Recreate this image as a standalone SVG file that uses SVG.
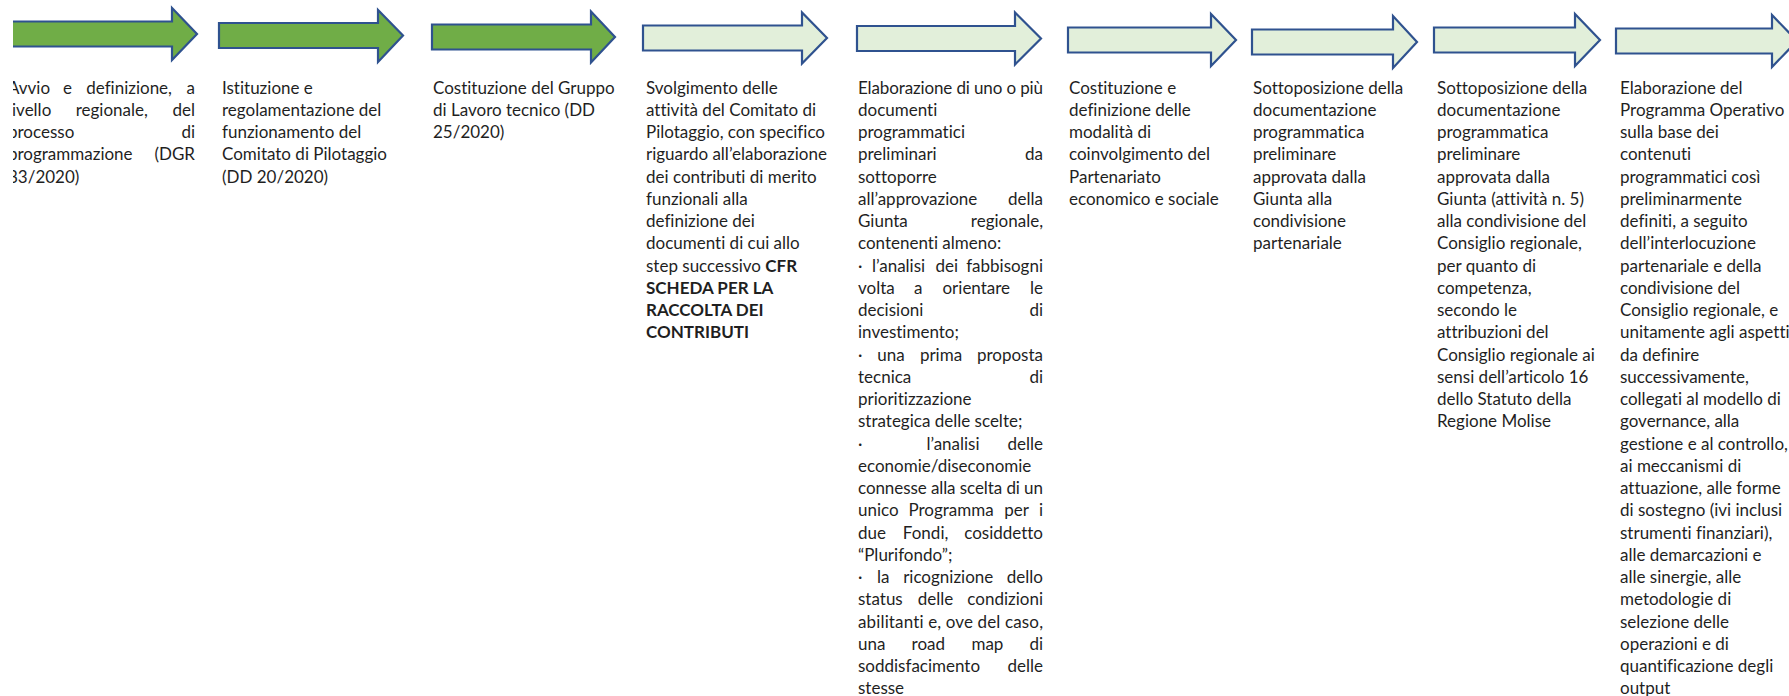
<svg xmlns="http://www.w3.org/2000/svg" width="1789" height="696" viewBox="0 0 1789 696">
<defs>
<style>
.ad{fill:#70AD47;stroke:#2F528F;stroke-width:2.2;stroke-linejoin:miter}
.al{fill:#E2EFDA;stroke:#2F528F;stroke-width:2.2;stroke-linejoin:miter}
.t{font-family:Lato,"Open Sans",sans-serif;font-size:17px;fill:#1f1f1f;font-variant-ligatures:none}
.b{font-weight:bold}
.e{text-anchor:end}
.m{text-anchor:middle}
</style>
<clipPath id="leftclip"><rect x="13" y="0" width="1776" height="696"/></clipPath>
</defs>
<rect width="1789" height="696" fill="#ffffff"/>
<g id="connectors"></g>
<g id="step1" clip-path="url(#leftclip)">
<polygon class="ad" points="4,21.5 172,21.5 172,8 197,34 172,60 172,46.5 4,46.5"/>
<text class="t"><tspan x="8" y="93.5">Avvio</tspan><tspan class="m" x="67.4" y="93.5">e</tspan><tspan class="m" x="129.1" y="93.5">definizione,</tspan><tspan class="e" x="195" y="93.5">a</tspan></text>
<text class="t"><tspan x="8" y="115.75">livello</tspan><tspan class="m" x="111.8" y="115.75">regionale,</tspan><tspan class="e" x="195" y="115.75">del</tspan></text>
<text class="t"><tspan x="8" y="138">processo</tspan><tspan class="e" x="195" y="138">di</tspan></text>
<text class="t"><tspan x="8" y="160.25">programmazione</tspan><tspan class="e" x="195" y="160.25">(DGR</tspan></text>
<text class="t" x="8" y="182.5">83/2020)</text>
</g>
<g id="step2">
<polygon class="ad" points="219,23 378,23 378,10 403,35.5 378,62 378,48 219,48"/>
<text class="t"><tspan x="222" y="93.5">Istituzione e</tspan><tspan x="222" y="115.75">regolamentazione del</tspan><tspan x="222" y="138">funzionamento del</tspan><tspan x="222" y="160.25">Comitato di Pilotaggio</tspan><tspan x="222" y="182.5">(DD 20/2020)</tspan></text>
</g>
<g id="step3">
<polygon class="ad" points="432,24.5 591,24.5 591,11.5 615,37 591,62.5 591,49.5 432,49.5"/>
<text class="t"><tspan x="433" y="93.5">Costituzione del Gruppo</tspan><tspan x="433" y="115.75">di Lavoro tecnico (DD</tspan><tspan x="433" y="138">25/2020)</tspan></text>
</g>
<g id="step4">
<polygon class="al" points="643,25.5 802,25.5 802,12.5 827,38 802,63.5 802,50.5 643,50.5"/>
<text class="t"><tspan x="646" y="93.5">Svolgimento delle</tspan><tspan x="646" y="115.75">attività del Comitato di</tspan><tspan x="646" y="138">Pilotaggio, con specifico</tspan><tspan x="646" y="160.25">riguardo all’elaborazione</tspan><tspan x="646" y="182.5">dei contributi di merito</tspan><tspan x="646" y="204.75">funzionali alla</tspan><tspan x="646" y="227">definizione dei</tspan><tspan x="646" y="249.25">documenti di cui allo</tspan><tspan x="646" y="271.5">step successivo </tspan><tspan class="b">CFR</tspan><tspan class="b" x="646" y="293.75">SCHEDA PER LA</tspan><tspan class="b" x="646" y="316">RACCOLTA DEI</tspan><tspan class="b" x="646" y="338.25">CONTRIBUTI</tspan></text>
</g>
<g id="step5">
<polygon class="al" points="857,26 1015,26 1015,12.5 1041,38.5 1015,64.5 1015,51 857,51"/>
<text class="t" x="858" y="93.5" textLength="185" lengthAdjust="spacing">Elaborazione di uno o più</text>
<text class="t" x="858" y="115.75">documenti</text>
<text class="t" x="858" y="138">programmatici</text>
<text class="t"><tspan x="858" y="160.25">preliminari</tspan><tspan class="e" x="1043" y="160.25">da</tspan></text>
<text class="t" x="858" y="182.5">sottoporre</text>
<text class="t"><tspan x="858" y="204.75">all’approvazione</tspan><tspan class="e" x="1043" y="204.75">della</tspan></text>
<text class="t"><tspan x="858" y="227">Giunta</tspan><tspan class="e" x="1043" y="227">regionale,</tspan></text>
<text class="t" x="858" y="249.25">contenenti almeno:</text>
<text class="t"><tspan x="858" y="271.5">·</tspan><tspan x="872" y="271.5">l’analisi</tspan><tspan class="m" x="946.8" y="271.5">dei</tspan><tspan class="e" x="1043" y="271.5">fabbisogni</tspan></text>
<text class="t"><tspan x="858" y="293.75">volta</tspan><tspan class="m" x="918.3" y="293.75">a</tspan><tspan class="m" x="976.3" y="293.75">orientare</tspan><tspan class="e" x="1043" y="293.75">le</tspan></text>
<text class="t"><tspan x="858" y="316">decisioni</tspan><tspan class="e" x="1043" y="316">di</tspan></text>
<text class="t" x="858" y="338.25">investimento;</text>
<text class="t"><tspan x="858" y="360.5">·</tspan><tspan class="m" x="891" y="360.5">una</tspan><tspan class="m" x="941" y="360.5">prima</tspan><tspan class="e" x="1043" y="360.5">proposta</tspan></text>
<text class="t"><tspan x="858" y="382.75">tecnica</tspan><tspan class="e" x="1043" y="382.75">di</tspan></text>
<text class="t" x="858" y="405">prioritizzazione</text>
<text class="t" x="858" y="427.25">strategica delle scelte;</text>
<text class="t"><tspan x="858" y="449.5">·</tspan><tspan class="m" x="953" y="449.5">l’analisi</tspan><tspan class="e" x="1043" y="449.5">delle</tspan></text>
<text class="t" x="858" y="471.75">economie/diseconomie</text>
<text class="t" x="858" y="494" textLength="185" lengthAdjust="spacing">connesse alla scelta di un</text>
<text class="t"><tspan x="858" y="516.25">unico</tspan><tspan class="m" x="951.1" y="516.25">Programma</tspan><tspan class="m" x="1016.5" y="516.25">per</tspan><tspan class="e" x="1043" y="516.25">i</tspan></text>
<text class="t"><tspan x="858" y="538.5">due</tspan><tspan class="m" x="925.6" y="538.5">Fondi,</tspan><tspan class="e" x="1043" y="538.5">cosiddetto</tspan></text>
<text class="t" x="858" y="560.75">“Plurifondo”;</text>
<text class="t"><tspan x="858" y="583">·</tspan><tspan class="m" x="883.2" y="583">la</tspan><tspan class="m" x="948.2" y="583">ricognizione</tspan><tspan class="e" x="1043" y="583">dello</tspan></text>
<text class="t"><tspan x="858" y="605.25">status</tspan><tspan class="m" x="935.4" y="605.25">delle</tspan><tspan class="e" x="1043" y="605.25">condizioni</tspan></text>
<text class="t" x="858" y="627.5" textLength="185" lengthAdjust="spacing">abilitanti e, ove del caso,</text>
<text class="t"><tspan x="858" y="649.75">una</tspan><tspan class="m" x="928.3" y="649.75">road</tspan><tspan class="m" x="987.4" y="649.75">map</tspan><tspan class="e" x="1043" y="649.75">di</tspan></text>
<text class="t"><tspan x="858" y="672">soddisfacimento</tspan><tspan class="e" x="1043" y="672">delle</tspan></text>
<text class="t" x="858" y="694.25">stesse</text>
</g>
<g id="step6">
<polygon class="al" points="1068,27.5 1211,27.5 1211,14 1236,40 1211,66 1211,52.5 1068,52.5"/>
<text class="t"><tspan x="1069" y="93.5">Costituzione e</tspan><tspan x="1069" y="115.75">definizione delle</tspan><tspan x="1069" y="138">modalità di</tspan><tspan x="1069" y="160.25">coinvolgimento del</tspan><tspan x="1069" y="182.5">Partenariato</tspan><tspan x="1069" y="204.75">economico e sociale</tspan></text>
</g>
<g id="step7">
<polygon class="al" points="1252,29.5 1393,29.5 1393,16 1417,42 1393,68 1393,54.5 1252,54.5"/>
<text class="t"><tspan x="1253" y="93.5">Sottoposizione della</tspan><tspan x="1253" y="115.75">documentazione</tspan><tspan x="1253" y="138">programmatica</tspan><tspan x="1253" y="160.25">preliminare</tspan><tspan x="1253" y="182.5">approvata dalla</tspan><tspan x="1253" y="204.75">Giunta alla</tspan><tspan x="1253" y="227">condivisione</tspan><tspan x="1253" y="249.25">partenariale</tspan></text>
</g>
<g id="step8">
<polygon class="al" points="1434,27.5 1575,27.5 1575,14 1600,40 1575,66 1575,52.5 1434,52.5"/>
<text class="t"><tspan x="1437" y="93.5">Sottoposizione della</tspan><tspan x="1437" y="115.75">documentazione</tspan><tspan x="1437" y="138">programmatica</tspan><tspan x="1437" y="160.25">preliminare</tspan><tspan x="1437" y="182.5">approvata dalla</tspan><tspan x="1437" y="204.75">Giunta (attività n. 5)</tspan><tspan x="1437" y="227">alla condivisione del</tspan><tspan x="1437" y="249.25">Consiglio regionale,</tspan><tspan x="1437" y="271.5">per quanto di</tspan><tspan x="1437" y="293.75">competenza,</tspan><tspan x="1437" y="316">secondo le</tspan><tspan x="1437" y="338.25">attribuzioni del</tspan><tspan x="1437" y="360.5">Consiglio regionale ai</tspan><tspan x="1437" y="382.75">sensi dell’articolo 16</tspan><tspan x="1437" y="405">dello Statuto della</tspan><tspan x="1437" y="427.25">Regione Molise</tspan></text>
</g>
<g id="step9">
<polygon class="al" points="1616,28.5 1772,28.5 1772,15 1797,41 1772,67 1772,53.5 1616,53.5"/>
<text class="t"><tspan x="1620" y="93.5">Elaborazione del</tspan><tspan x="1620" y="115.75">Programma Operativo</tspan><tspan x="1620" y="138">sulla base dei</tspan><tspan x="1620" y="160.25">contenuti</tspan><tspan x="1620" y="182.5">programmatici così</tspan><tspan x="1620" y="204.75">preliminarmente</tspan><tspan x="1620" y="227">definiti, a seguito</tspan><tspan x="1620" y="249.25">dell’interlocuzione</tspan><tspan x="1620" y="271.5">partenariale e della</tspan><tspan x="1620" y="293.75">condivisione del</tspan><tspan x="1620" y="316">Consiglio regionale, e</tspan><tspan x="1620" y="338.25">unitamente agli aspetti</tspan><tspan x="1620" y="360.5">da definire</tspan><tspan x="1620" y="382.75">successivamente,</tspan><tspan x="1620" y="405">collegati al modello di</tspan><tspan x="1620" y="427.25">governance, alla</tspan><tspan x="1620" y="449.5">gestione e al controllo,</tspan><tspan x="1620" y="471.75">ai meccanismi di</tspan><tspan x="1620" y="494">attuazione, alle forme</tspan><tspan x="1620" y="516.25">di sostegno (ivi inclusi</tspan><tspan x="1620" y="538.5">strumenti finanziari),</tspan><tspan x="1620" y="560.75">alle demarcazioni e</tspan><tspan x="1620" y="583">alle sinergie, alle</tspan><tspan x="1620" y="605.25">metodologie di</tspan><tspan x="1620" y="627.5">selezione delle</tspan><tspan x="1620" y="649.75">operazioni e di</tspan><tspan x="1620" y="672">quantificazione degli</tspan><tspan x="1620" y="694.25">output</tspan></text>
</g>
</svg>
